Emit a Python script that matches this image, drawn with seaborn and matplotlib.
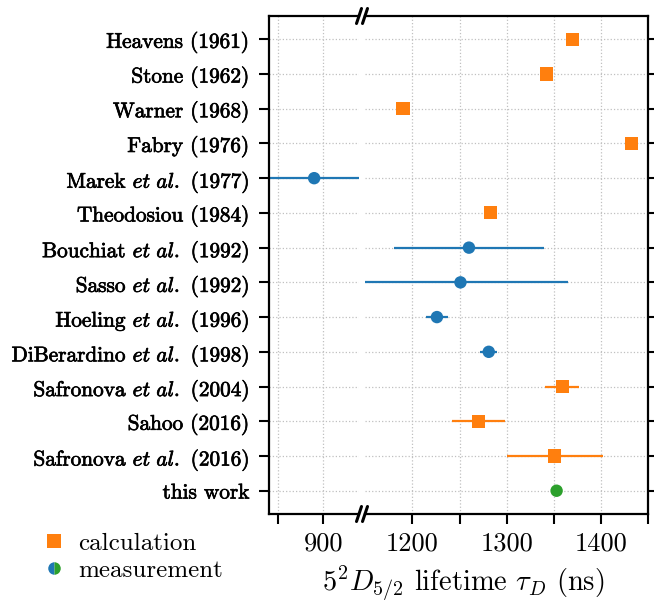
import numpy as np
import pandas as pd
import matplotlib
matplotlib.use("Agg")
import matplotlib.pyplot as plt
import matplotlib.patheffects as pe
from matplotlib.lines import Line2D
import seaborn as sns

# ---- data ----
labels = ['Heavens (1961)', 'Stone (1962)', 'Warner (1968)', 'Fabry (1976)',
          r'Marek $et\ al.$ (1977)', 'Theodosiou (1984)',
          r'Bouchiat $et\ al.$ (1992)', r'Sasso $et\ al.$ (1992)',
          r'Hoeling $et\ al.$ (1996)', r'DiBerardino $et\ al.$ (1998)',
          r'Safronova $et\ al.$ (2004)', 'Sahoo (2016)',
          r'Safronova $et\ al.$ (2016)', 'this work']
values = [1370, 1342, 1190, 1433, 890, 1283, 1260, 1251, 1226, 1281, 1359, 1270, 1351, 1353]
errors = [0, 0, 0, 0, 50, 0, 80, 114, 12, 9, 18, 28, 51, 4]
kinds = ['calculation', 'calculation', 'calculation', 'calculation', 'measurement',
         'calculation', 'measurement', 'measurement', 'measurement', 'measurement',
         'calculation', 'calculation', 'calculation', 'this work']
left_ticks = [850, 900]
left_ticklabels = ['', '900']
right_ticks = [1200, 1250, 1300, 1350, 1400, 1450]
right_ticklabels = ['1200', '', '1300', '', '1400', '']

df = pd.DataFrame({'label': labels, 'value': values, 'err': errors, 'kind': kinds})
df['pos'] = np.arange(len(df))

sns.set_theme(style='ticks')
plt.rcParams.update({
    'font.family': 'serif',
    'font.serif': ['cmr10'],
    'mathtext.fontset': 'cm',
    'axes.unicode_minus': False,
    'axes.formatter.use_mathtext': True,
    'text.color': 'black',
    'axes.labelcolor': 'black',
    'axes.edgecolor': 'black',
    'xtick.color': 'black',
    'ytick.color': 'black',
})

palette = {'calculation': '#ff7f0e', 'measurement': '#1f77b4', 'this work': '#2ca02c'}
markers = {'calculation': 's', 'measurement': 'o', 'this work': 'o'}
sizes = {'calculation': 88, 'measurement': 80, 'this work': 80}

W, H = 654, 604
fig = plt.figure(figsize=(W / 100, H / 100), dpi=100)

def fx(px):
    return px / W

def fy(py):
    return 1 - py / H

ax_top, ax_bot = 16, 514
axL = fig.add_axes([fx(269), fy(ax_bot), fx(359.3) - fx(269), fy(ax_top) - fy(ax_bot)])
axR = fig.add_axes([fx(365.3), fy(ax_bot), fx(648) - fx(365.3), fy(ax_top) - fy(ax_bot)])

for ax in (axL, axR):
    ax.grid(True, ls=':', color='#c0c0c0', lw=0.9)
    ax.set_axisbelow(True)
    for k in df['kind'].unique():
        sub = df[df['kind'] == k]
        ax.errorbar(sub['value'], sub['pos'], xerr=sub['err'], fmt='none',
                    ecolor=palette[k], elinewidth=1.6, capsize=0, zorder=2)
    sns.scatterplot(data=df, x='value', y='pos', hue='kind', style='kind',
                    palette=palette, markers=markers, size='kind', sizes=sizes,
                    edgecolor='none', linewidth=0, legend=False, ax=ax, zorder=3)
    ax.set_ylim(len(df) - 1 + 0.67, -0.67)
    ax.set_xlabel('')
    ax.set_ylabel('')
    for s in ax.spines.values():
        s.set_linewidth(1.6)
    ax.tick_params(direction='out', length=7, width=1.5, labelsize=19, pad=6)

axL.set_xlim(840, 940)
axR.set_xlim(1150, 1450)
axL.set_xticks(left_ticks)
axL.set_xticklabels(left_ticklabels)
axR.set_xticks(right_ticks)
axR.set_xticklabels(right_ticklabels)

axL.set_yticks(df['pos'])
axL.set_yticklabels(df['label'])
axL.tick_params(axis='y', labelsize=15.3, pad=7)
for t in axL.get_yticklabels():
    t.set_path_effects([pe.withStroke(linewidth=0.5, foreground='black')])
axL.spines['right'].set_visible(False)

axR.set_yticks(df['pos'])
axR.yaxis.tick_right()
axR.tick_params(axis='y', labelright=False, labelleft=False)
axR.spines['left'].set_visible(False)

# break marks
cx = 362
for yb in (ax_top, ax_bot):
    for off in (-3, 3):
        fig.add_artist(Line2D([fx(cx + off - 2.5), fx(cx + off + 2.5)],
                              [fy(yb + 7.5), fy(yb - 7.5)],
                              color='black', lw=2.2, clip_on=False))

fig.text(fx(463.5), fy(584), r'$5^2D_{5/2}$ lifetime $\tau_D$ (ns)',
         ha='center', va='center', fontsize=20.5)

handles = [
    Line2D([], [], marker='s', color=palette['calculation'], ls='none', markersize=9.4,
           markeredgewidth=0),
    Line2D([], [], marker='o', ls='none', markersize=9, fillstyle='left',
           markerfacecolor=palette['measurement'], markerfacecoloralt=palette['this work'],
           markeredgewidth=0),
]
fig.legend(handles, ['calculation', 'measurement'], loc='center left',
           bbox_to_anchor=(fx(41.5), fy(557)), frameon=False, fontsize=18,
           handlelength=1.0, handletextpad=0.45, labelspacing=0.2, borderpad=0,
           borderaxespad=0)

fig.savefig('out.png', dpi=100)
